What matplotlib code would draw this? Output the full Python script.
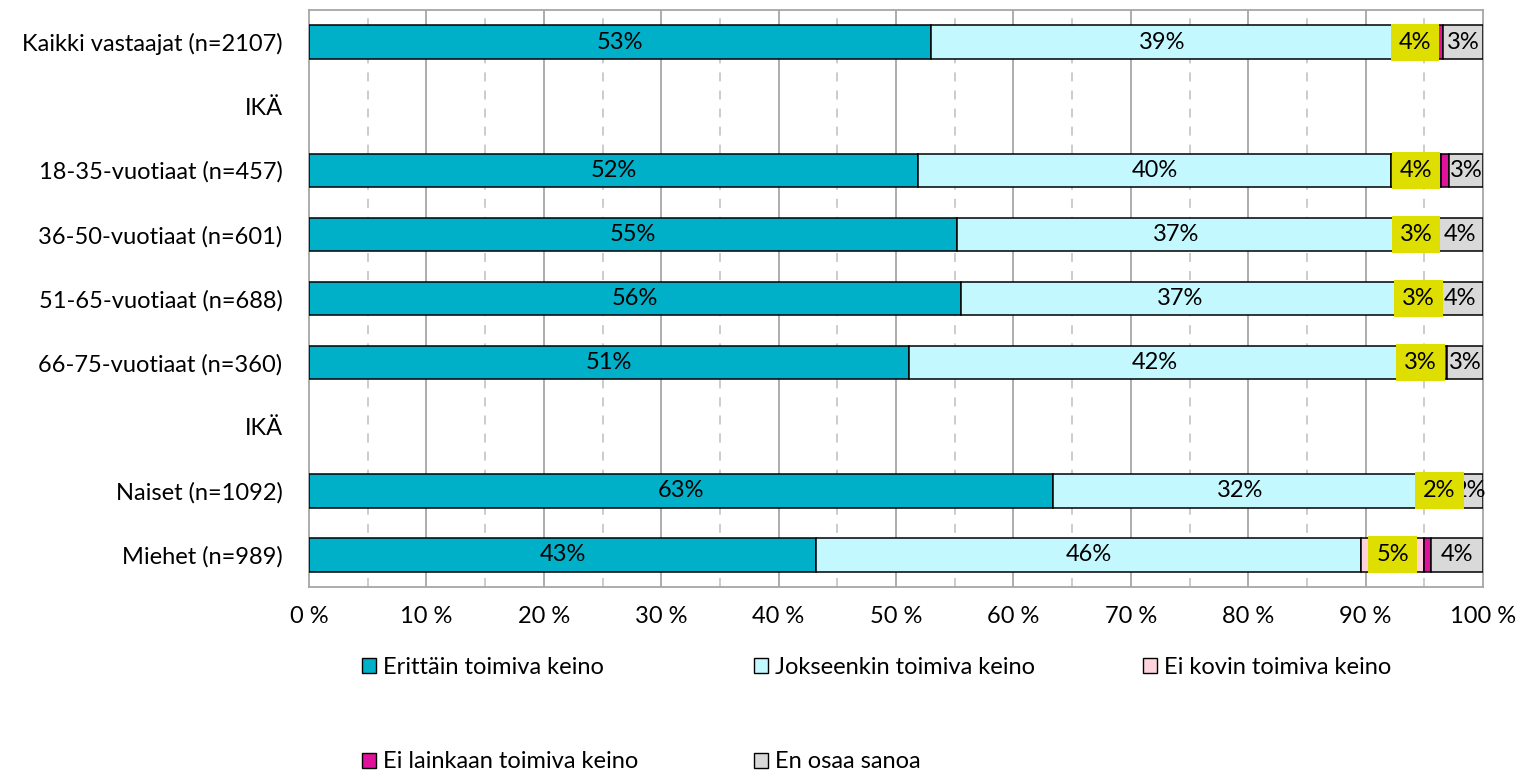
import matplotlib
matplotlib.use("Agg")
import matplotlib.pyplot as plt
from matplotlib.patches import Patch
import numpy as np

plt.rcParams['font.family'] = ['Lato', 'DejaVu Sans']

categories = ["Kaikki vastaajat (n=2107)", "IKÄ", "18-35-vuotiaat (n=457)",
              "36-50-vuotiaat (n=601)", "51-65-vuotiaat (n=688)",
              "66-75-vuotiaat (n=360)", "IKÄ", "Naiset (n=1092)", "Miehet (n=989)"]
series_names = ["Erittäin toimiva keino", "Jokseenkin toimiva keino",
                "Ei kovin toimiva keino", "Ei lainkaan toimiva keino", "En osaa sanoa"]
# values in percent (heading rows are empty)
erittain   = [53.0, 0, 51.9, 55.2, 55.5, 51.1, 0, 63.4, 43.2]
jokseenkin = [39.4, 0, 40.3, 37.4, 37.4, 41.9, 0, 31.9, 46.4]
ei_kovin   = [3.6, 0, 4.2, 3.4, 3.2, 3.4, 0, 2.0, 5.4]
ei_lainkaan= [0.6, 0, 0.7, 0.0, 0.0, 0.5, 0, 0.5, 0.6]
en_osaa    = [3.4, 0, 2.9, 4.0, 3.9, 3.1, 0, 2.2, 4.4]
heading_rows = [1, 6]

colors = ["#00AFC8", "#C4F8FF", "#FFD3DE", "#E0119A", "#D9D9D9"]
label_box = "#DEDE00"
FS = 17

fig = plt.figure(figsize=(15.19, 7.75), dpi=100)
ax = fig.add_axes([309/1519, 1-587/775, (1483-309)/1519, (587-10)/775])

y = np.arange(len(categories))
series = [erittain, jokseenkin, ei_kovin, ei_lainkaan, en_osaa]
left = np.zeros(len(categories))
for si, vals in enumerate(series):
    vals = np.array(vals, dtype=float)
    mask = np.array([i not in heading_rows for i in range(len(categories))]) & (vals > 0)
    ax.barh(y[mask], vals[mask], left=left[mask], height=0.52, color=colors[si],
            edgecolor="black", linewidth=1.1, zorder=3)
    for i in np.where(mask)[0]:
        cx = left[i] + vals[i] / 2
        txt = f"{round(vals[i]):.0f}%"
        if si == 2:
            ax.text(cx, y[i], txt, ha="center", va="center", fontsize=FS, zorder=6,
                    bbox=dict(boxstyle="square,pad=0.34", fc=label_box, ec="none"))
        elif si == 3:
            pass
        else:
            ax.text(cx, y[i], txt, ha="center", va="center", fontsize=FS, zorder=5)
    left = left + vals

ax.set_xlim(0, 100)
ax.set_ylim(8.5, -0.5)
ax.set_yticks(y)
ax.set_yticklabels(categories, fontsize=FS)
ax.set_xticks(np.arange(0, 101, 10))
ax.set_xticklabels([f"{v} %" for v in range(0, 101, 10)], fontsize=FS)
ax.tick_params(axis="both", length=0)
ax.tick_params(axis="y", pad=19)
ax.tick_params(axis="x", pad=14)
for v in range(10, 100, 10):
    ax.axvline(v, color="#A6A6A6", linewidth=1.3, zorder=1)
for v in range(5, 100, 10):
    ax.axvline(v, color="#C8C8C8", linewidth=1.3, linestyle=(0, (5, 5)), zorder=1)
for s in ax.spines.values():
    s.set_color("#A6A6A6")
    s.set_linewidth(1.3)

# legend: row 1 and row 2 positions in pixels
legend_pos = [(362, 667), (754, 667), (1143, 667), (362, 762), (754, 762)]
for si, (px, py) in enumerate(legend_pos):
    h = Patch(facecolor=colors[si], edgecolor="black", linewidth=1.0)
    fig.legend([h], [series_names[si]], loc="center left",
               bbox_to_anchor=(px/1519, 1-py/775), frameon=False, fontsize=FS,
               handlelength=0.6, handleheight=0.6, handletextpad=0.3,
               borderpad=0, borderaxespad=0)

fig.savefig("out.png", dpi=100)
